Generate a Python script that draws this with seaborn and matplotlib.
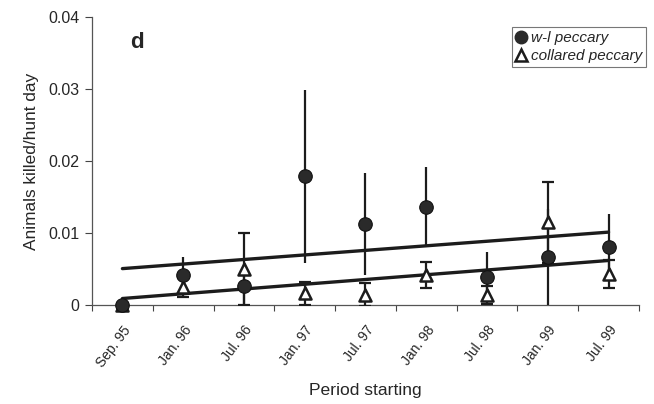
import numpy as np
import pandas as pd
import matplotlib
matplotlib.use("Agg")
import matplotlib.pyplot as plt
import matplotlib.transforms as mtransforms
import seaborn as sns
from matplotlib.lines import Line2D

periods = ["Sep. 95", "Jan. 96", "Jul. 96", "Jan. 97", "Jul. 97",
           "Jan. 98", "Jul. 98", "Jan. 99", "Jul. 99"]
wl_peccary = [0.0, 0.0042, 0.0027, 0.0179, 0.0112, 0.0136, 0.0039, 0.0067, 0.0081]
wl_err = [0.0, 0.0025, 0.0027, 0.0120, 0.0071, 0.0056, 0.0035, 0.0067, 0.0045]
collared = [0.0, 0.0025, 0.0050, 0.0016, 0.0014, 0.0042, 0.0014, 0.0115, 0.0043]
collared_err = [0.0, 0.0014, 0.0050, 0.0016, 0.0016, 0.0018, 0.0012, 0.0056, 0.0020]
y_ticks = [0, 0.01, 0.02, 0.03, 0.04]
y_tick_labels = ["0", "0.01", "0.02", "0.03", "0.04"]

sns.set_theme(style="white")
plt.rcParams["font.family"] = ["Liberation Sans", "DejaVu Sans"]

x = np.arange(len(periods))
df = pd.DataFrame({"x": x, "wl": wl_peccary, "wl_err": wl_err,
                   "col": collared, "col_err": collared_err})

fig = plt.figure(figsize=(6.54, 4.04), dpi=100)
ax = fig.add_axes([0.1407, 0.245, 0.8363, 0.713])

dark = "#1c1c1c"
# trend lines
sns.regplot(data=df, x="x", y="wl", ax=ax, scatter=False, ci=None,
            line_kws=dict(color=dark, lw=2.4, zorder=2))
sns.regplot(data=df, x="x", y="col", ax=ax, scatter=False, ci=None,
            line_kws=dict(color=dark, lw=2.4, zorder=2))

# error bars
ax.errorbar(df["x"], df["wl"], yerr=df["wl_err"], fmt="none", ecolor=dark,
            elinewidth=1.6, capsize=0, zorder=3)
ax.errorbar(df["x"], df["col"], yerr=df["col_err"], fmt="none", ecolor=dark,
            elinewidth=1.6, capsize=4, capthick=1.6, zorder=3)

# markers
sns.scatterplot(data=df, x="x", y="col", ax=ax, marker="^", s=75,
                facecolor="white", edgecolor=dark, linewidth=1.8, zorder=4,
                clip_on=False)
sns.scatterplot(data=df, x="x", y="wl", ax=ax, marker="o", s=95,
                color="#2a2a2a", edgecolor="#111111", linewidth=0.8, zorder=5,
                clip_on=False)

ax.set_xlim(-0.5, len(periods) - 0.5)
ax.set_ylim(0, 0.04)
ax.set_yticks(y_ticks)
ax.set_yticklabels(y_tick_labels, fontsize=11.5)
ax.set_xticks(x)
ax.set_xticklabels(periods, rotation=53, ha="right", rotation_mode="anchor",
                   fontsize=10)
shift = mtransforms.ScaledTranslation(-4 / 100, 0, fig.dpi_scale_trans)
for lab in ax.get_xticklabels():
    lab.set_transform(lab.get_transform() + shift)
ax.set_xticks(np.arange(-0.5, len(periods) + 0.5, 1), minor=True)
ax.tick_params(axis="x", which="major", length=0, pad=13)
ax.tick_params(axis="x", which="minor", length=4, width=0.8, color="#444444",
               direction="out", bottom=True)
ax.tick_params(axis="y", which="major", length=5, width=0.8, color="#444444",
               direction="out", left=True, pad=4)

for s in ["top", "right"]:
    ax.spines[s].set_visible(False)
for s in ["left", "bottom"]:
    ax.spines[s].set_color("#555555")
    ax.spines[s].set_linewidth(0.9)

ax.set_xlabel("Period starting", fontsize=12.6)
ax.xaxis.set_label_coords(0.5, -0.272)
ax.set_ylabel("Animals killed/hunt day", fontsize=12.4, labelpad=7)

ax.text(0.083, 0.91, "d", transform=ax.transAxes, fontsize=16,
        fontweight="bold", ha="center", va="center")

handles = [
    Line2D([], [], marker="o", ls="none", color="#2a2a2a", markersize=9),
    Line2D([], [], marker="^", ls="none", markerfacecolor="white",
           markeredgecolor=dark, markeredgewidth=1.8, markersize=8),
]
leg = ax.legend(handles, ["w-l peccary", "collared peccary"],
                loc="upper right", bbox_to_anchor=(1.013, 0.965),
                prop=dict(style="italic", size=11), frameon=True,
                fancybox=False, edgecolor="#555555", handletextpad=0.3,
                borderpad=0.25, labelspacing=0.3, handlelength=0.7,
                borderaxespad=0.0)
leg.get_frame().set_linewidth(0.8)

fig.savefig("out.png", dpi=100)
